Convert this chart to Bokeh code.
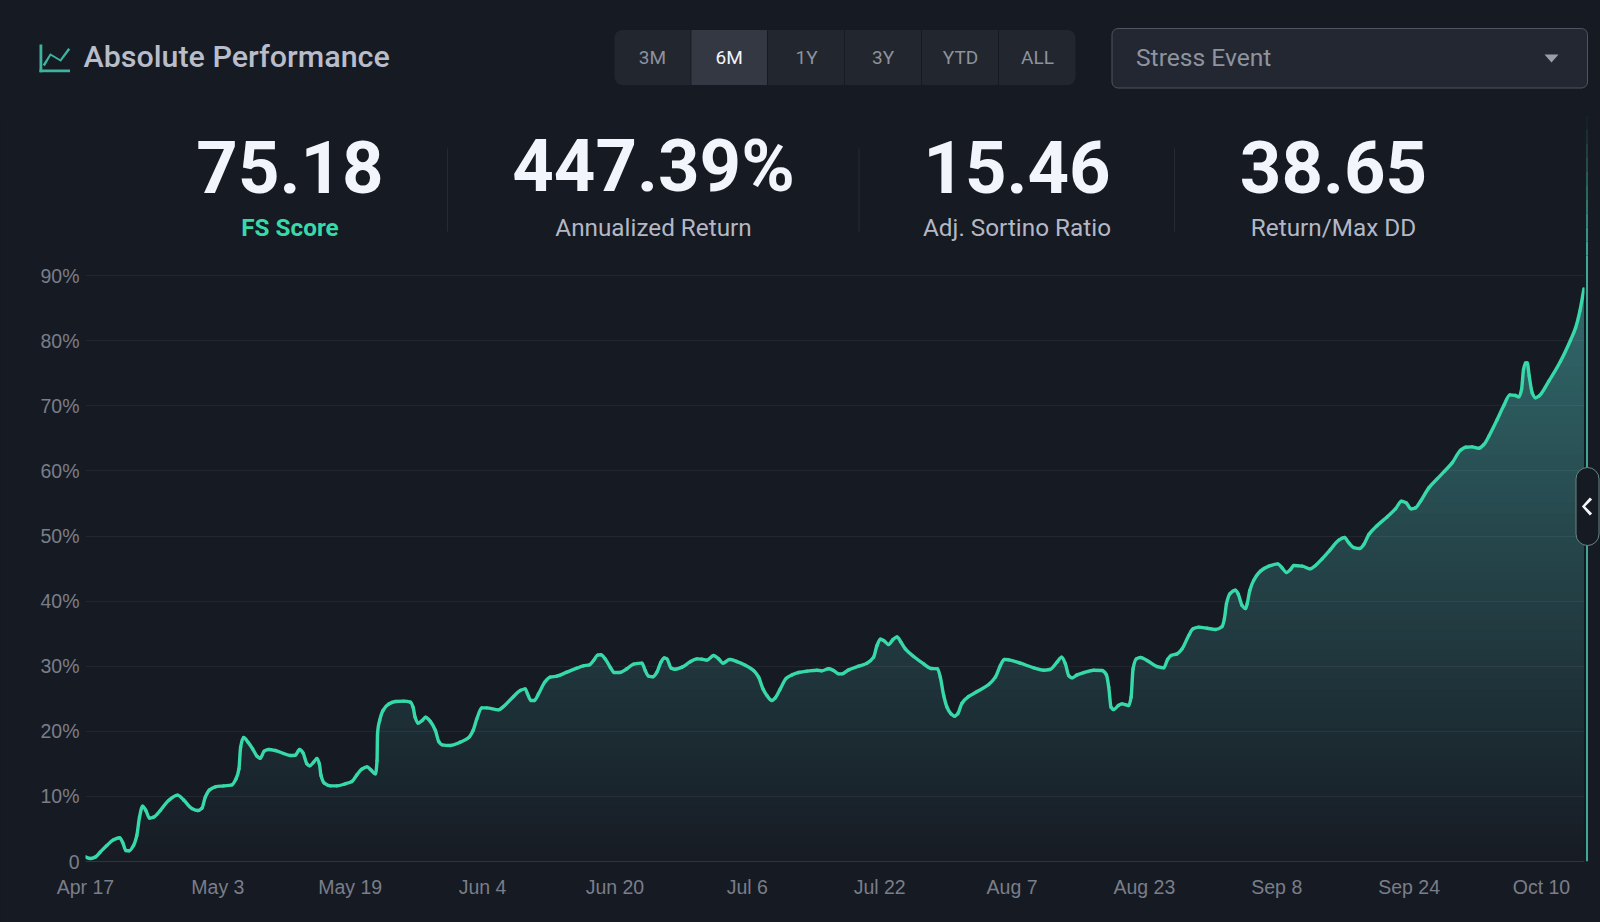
import numpy as np
from bokeh.plotting import figure
from bokeh.layouts import column
from bokeh.embed import file_html
from bokeh.resources import INLINE
from bokeh.models import Label, BoxAnnotation, PolyAnnotation, FixedTicker, Range1d

# ---- data -----------------------------------------------------------------
days = [0,.56,1.17,1.77,2.58,3.39,4.11,4.48,4.88,5.28,5.8,6.2,6.53,6.9,7.3,7.74,8.23,9.03,10.04,11.13,11.85,12.86,13.55,14.07,14.48,15.0,15.69,16.7,17.7,18.2,18.55,18.75,19.11,19.64,20.2,20.73,21.13,21.6,22.14,22.94,23.95,24.76,25.36,25.89,26.29,26.77,27.1,27.58,27.98,28.27,28.47,28.87,29.6,30.4,31.4,32.2,32.8,33.4,34.03,34.5,35.04,35.24,35.3,35.56,35.97,36.65,37.46,38.47,39.27,39.6,39.84,40.2,40.7,41.1,41.7,42.3,42.7,43.1,44.1,45.3,46.3,46.85,47.3,47.9,48.5,49.93,50.53,51.74,52.55,53.15,53.43,53.84,54.24,54.76,55.57,56.17,56.98,58.19,59.4,60.2,60.93,61.41,61.9,62.3,62.82,63.43,63.91,64.56,65.44,66.25,67.26,67.66,68.06,68.59,69.07,69.56,69.96,70.28,70.8,71.29,72.1,73.1,73.9,74.5,75.12,75.92,76.53,77.05,77.86,78.74,79.75,80.76,81.37,81.89,82.37,82.98,83.38,83.99,84.71,85.4,86.2,87.21,88.42,89.02,89.83,90.43,91.04,91.44,92.25,93.46,94.47,95.27,95.68,96.08,96.48,97.09,97.57,98.09,98.58,99.1,100.11,101.32,102.2,103.0,103.33,103.74,104.14,104.62,105.07,105.43,105.95,106.76,107.77,109.18,109.98,110.59,111.07,111.6,113.0,114.62,115.83,116.55,117.44,118.0,118.45,118.85,119.26,119.86,120.67,121.87,122.88,123.41,123.69,123.97,124.29,124.9,125.3,126.1,126.39,126.63,127.03,127.52,128.32,129.53,130.34,130.82,131.22,131.95,132.56,133.36,133.88,134.57,135.58,136.59,137.39,137.67,137.92,138.32,139.0,139.33,139.81,140.22,140.42,140.74,141.22,142.03,143.04,144.12,144.65,145.17,145.66,146.06,147.07,148.07,148.68,149.48,150.49,151.5,152.19,152.71,153.31,154.04,154.52,155.13,156.14,157.34,158.35,159.08,159.64,160.25,160.77,161.38,162.38,163.39,164.28,165.2,166.21,166.82,167.62,168.43,169.03,169.64,170.65,171.45,172.18,172.86,173.27,173.59,173.83,174.07,174.28,174.52,174.88,175.28,175.69,176.89,178.3,179.51,180.12,180.64,181.13]
returns = [.7,.46,.67,1.43,2.46,3.33,3.64,2.97,1.69,1.64,2.46,3.99,6.81,8.5,7.83,6.66,6.81,7.83,9.37,10.19,9.47,8.14,7.83,8.19,9.88,11.0,11.47,11.62,11.78,12.7,14.23,17.56,19.05,18.33,17.31,16.18,15.87,16.95,17.2,17.05,16.59,16.28,16.33,17.2,16.69,15.0,14.7,15.26,15.82,15.0,13.21,12.03,11.62,11.62,11.93,12.29,13.31,14.18,14.54,14.08,13.47,15.5,19.6,21.66,23.2,24.2,24.58,24.63,24.47,23.7,22.17,21.25,21.66,22.17,21.5,20.12,18.43,17.92,17.82,18.33,19.0,20.12,21.9,23.6,23.6,23.3,23.81,25.35,26.27,26.52,25.75,24.73,24.73,25.75,27.65,28.32,28.47,29.08,29.7,30.06,30.21,30.88,31.69,31.75,31.13,29.85,29.03,29.03,29.6,30.31,30.47,29.34,28.47,28.37,29.08,30.62,31.28,31.13,29.7,29.54,29.85,30.67,31.13,31.08,30.93,31.64,31.13,30.47,31.03,30.72,30.16,29.34,28.32,26.52,25.5,24.73,25.14,26.52,28.16,28.67,29.03,29.24,29.39,29.29,29.6,29.34,28.83,28.83,29.44,30.0,30.47,31.39,33.18,34.15,33.95,33.33,34.05,34.51,33.69,32.67,31.49,30.36,29.65,29.6,28.3,25.5,23.7,22.68,22.32,22.68,24.32,25.35,26.11,27.19,28.32,30.1,31.03,30.98,30.47,29.75,29.39,29.49,30.62,31.39,30.36,28.57,28.21,28.67,29.03,29.39,29.34,28.67,26.78,23.7,23.35,24.01,24.22,23.96,25.24,29.6,31.13,31.34,30.88,29.95,29.75,31.08,31.64,31.9,32.67,34.72,35.74,36.0,35.84,35.64,36.1,37.28,39.58,41.12,41.68,41.12,39.32,38.86,39.58,41.63,43.2,44.6,45.37,45.72,45.11,44.39,44.85,45.47,45.37,44.96,45.47,46.49,47.93,49.36,49.77,48.95,48.23,48.08,48.69,50.23,51.61,52.94,54.17,55.35,55.1,54.17,54.33,55.35,57.4,58.78,59.96,61.24,63.18,63.64,63.7,63.49,64.05,65.33,67.9,70.05,71.68,71.58,71.38,72.5,75.58,76.6,76.6,74.55,72.0,71.23,71.49,73.8,76.85,80.08,81.97,84.54,87.97]
x_tick_days = [0,16,32,48,64,80,96,112,128,144,160,176]
x_tick_labels = ["Apr 17","May 3","May 19","Jun 4","Jun 20","Jul 6","Jul 22","Aug 7","Aug 23","Sep 8","Sep 24","Oct 10"]
y_ticks = [0,10,20,30,40,50,60,70,80,90]
y_tick_labels = ["0","10%","20%","30%","40%","50%","60%","70%","80%","90%"]
stat_values = ["75.18","447.39%","15.46","38.65"]
stat_names = ["FS Score","Annualized Return","Adj. Sortino Ratio","Return/Max DD"]
periods = ["3M","6M","1Y","3Y","YTD","ALL"]

BG = "#161a23"
GREEN = "#38d9a9"
W, H = 1600, 922
HEAD = 115

# header strip: its frame fills the whole strip, so nothing in it gets cut
hd = figure(width=W, height=HEAD, output_backend="svg", toolbar_location=None,
            x_range=Range1d(0, W), y_range=Range1d(0, HEAD), x_axis_type=None, y_axis_type=None,
            min_border=0, background_fill_color=BG, border_fill_color=BG, outline_line_color=None)
hd.grid.visible = False
hd.frame_align = False

# chart: frame runs to the right edge so the handle and marker fit; x range is scaled accordingly
PX_PER_DAY = 1499 / 181.2
p = figure(width=W, height=H - HEAD, output_backend="svg", toolbar_location=None,
           x_range=Range1d(0, 1515 / PX_PER_DAY), y_range=Range1d(0, 114.6),
           min_border_left=85, min_border_right=0, min_border_top=0, min_border_bottom=61,
           background_fill_color=BG, border_fill_color=BG, outline_line_color=None)
p.frame_align = False

# gradient area: opaque nested layers, painted from the top level downwards
vals = np.array(returns)
xs = np.array(days)
vmax = 88.0
bg_rgb = np.array([0x16, 0x1a, 0x23])
top_rgb = np.array([0x31, 0x68, 0x6a])
for hi in np.arange(vmax, 0, -1.5):
    c = bg_rgb + (hi / vmax) * (top_rgb - bg_rgb)
    col = "#%02x%02x%02x" % tuple(int(round(v)) for v in c)
    p.varea(days, 0, np.minimum(vals, hi), fill_color=col, fill_alpha=1, level="image")

# the line itself: native bezier segments through the read points (monotone tangents)
h = np.diff(xs)
s = np.diff(vals) / h
m = np.zeros_like(vals)
m[0], m[-1] = s[0], s[-1]
for i in range(1, len(vals) - 1):
    if s[i - 1] * s[i] > 0:
        w1, w2 = 2 * h[i] + h[i - 1], h[i] + 2 * h[i - 1]
        m[i] = (w1 + w2) / (w1 / s[i - 1] + w2 / s[i])
p.bezier(xs[:-1], vals[:-1], xs[1:], vals[1:],
         xs[:-1] + h / 3, vals[:-1] + m[:-1] * h / 3,
         xs[1:] - h / 3, vals[1:] - m[1:] * h / 3,
         line_color=GREEN, line_width=3.4, line_cap="round", level="glyph")

# axes
p.xgrid.visible = False
p.ygrid.ticker = FixedTicker(ticks=y_ticks)
p.ygrid.grid_line_color = "#ffffff"
p.ygrid.grid_line_alpha = 0.055
p.ygrid.level = "underlay"
p.yaxis.ticker = FixedTicker(ticks=y_ticks)
p.yaxis.major_label_overrides = dict(zip(y_ticks, y_tick_labels))
p.xaxis.ticker = FixedTicker(ticks=x_tick_days)
p.xaxis.major_label_overrides = dict(zip(x_tick_days, x_tick_labels))
for ax in (p.xaxis[0], p.yaxis[0]):
    ax.major_tick_line_color = None
    ax.minor_tick_line_color = None
    ax.major_label_text_font = "Liberation Sans"
    ax.major_label_text_font_size = "19.5px"
    ax.major_label_text_color = "#7a7e89"
p.yaxis.axis_line_color = None
p.xaxis.axis_line_color = "#30343d"
p.xaxis.bounds = (0, 181.2)
p.xaxis.major_label_standoff = 8
p.yaxis.major_label_standoff = 0


def host(y):
    return (hd, 0) if y < HEAD else (p, HEAD)


def text(s, x, y, size, color, style="normal", align="left", font="Roboto"):
    f, o = host(y)
    f.add_layout(Label(x=x, y=y - o, x_units="canvas", y_units="canvas", text=s, text_font=font,
                       text_font_size=f"{size}px", text_font_style=style, text_color=color,
                       text_align=align, text_baseline="middle", level="overlay"))


def box(l, r, t, b, fill, line=None, radius=0, alpha=1.0):
    f, o = host(t)
    f.add_layout(BoxAnnotation(left=l, right=r, top=t - o, bottom=b - o, level="overlay",
                               left_units="canvas", right_units="canvas", top_units="canvas", bottom_units="canvas",
                               fill_color=fill, fill_alpha=alpha, line_color=line, line_alpha=1 if line else 0,
                               line_width=1, border_radius=radius))


def poly(xs, ys, fill):
    f, o = host(ys[0])
    f.add_layout(PolyAnnotation(xs=xs, ys=[y - o for y in ys], xs_units="canvas", ys_units="canvas", level="overlay",
                                fill_color=fill, fill_alpha=1, line_color=None))


def stroke(pts, w, fill):
    pts = np.array(pts, float)
    d = np.gradient(pts, axis=0)
    n = np.c_[-d[:, 1], d[:, 0]] / np.linalg.norm(d, axis=1, keepdims=True) * w / 2
    ring = np.r_[pts + n, (pts - n)[::-1]]
    poly(list(ring[:, 0]), list(ring[:, 1]), fill)


# header icon
ICON = "#3bb5a0"
box(39, 41.8, 44, 71.7, ICON)
box(39, 69.5, 69, 71.7, ICON)
stroke([(43.3, 65), (50, 54), (60, 60), (68.7, 48.3)], 2.5, ICON)
text("Absolute Performance", 83, 55.5, 30.4, "#b9bdc9", "normal", font="Roboto Medium")

# period buttons
btn_l = [614, 691, 767.5, 844.5, 921.5, 998.5]
btn_r = [690, 766.5, 843.5, 920.5, 997.5, 1075]
btn_c = [652, 728.6, 806, 882.6, 960, 1037]
box(614, 1075, 29.5, 84.5, "#22262f", radius=8)
for i, lab in enumerate(periods):
    if i == 1:
        box(btn_l[i], btn_r[i], 29.5, 84.5, "#343843")
    if i < 5:
        box(btn_r[i], btn_l[i + 1], 29.5, 84.5, BG)
    text(lab, btn_c[i], 57, 19, "#f2f5fc" if i == 1 else "#8e929c", "normal", "center")

# select
box(1111.5, 1587, 28, 87.5, "#222731", line="#50545e", radius=6)
text("Stress Event", 1135.5, 56.5, 24.6, "#8f939e")
poly([1544, 1558, 1551], [54, 54, 62], "#9a9ea8")

# stats
stat_x = [289.5, 653, 1016.5, 1333]
for i in range(4):
    text(stat_values[i], stat_x[i], 166, 72.5, "#f2f5fc", "bold", "center")
    text(stat_names[i], stat_x[i], 227, 24.3, GREEN if i == 0 else "#b4b8c4", "bold" if i == 0 else "normal", "center")
for dx in [447, 858.5, 1174]:
    box(dx - .5, dx + .5, 148, 231, "#262a33")

# right strip: hides the grid past the last day, then marker with fade-in, and handle
box(1584, 1600, 115, 862, BG)
fade_top = np.arange(115, 255, 14)
for i, t in enumerate(fade_top):
    box(1585.5, 1587.5, t, t + 14, "#3ea895", alpha=(i + .5) / len(fade_top))
box(1585.5, 1587.5, 255, 861, "#3ea895")
box(1575.5, 1598.5, 467, 545, BG, line="#6b8585", radius=12)
stroke([(1590.5, 498), (1583, 506), (1590.5, 514)], 3.2, "#f4f6fb")

page = column(hd, p, spacing=0)
html = file_html(page, INLINE).replace("</head>", "<style>html,body{margin:0;background:%s;overflow:hidden}</style></head>" % BG)
open("out.html", "w").write(html)
